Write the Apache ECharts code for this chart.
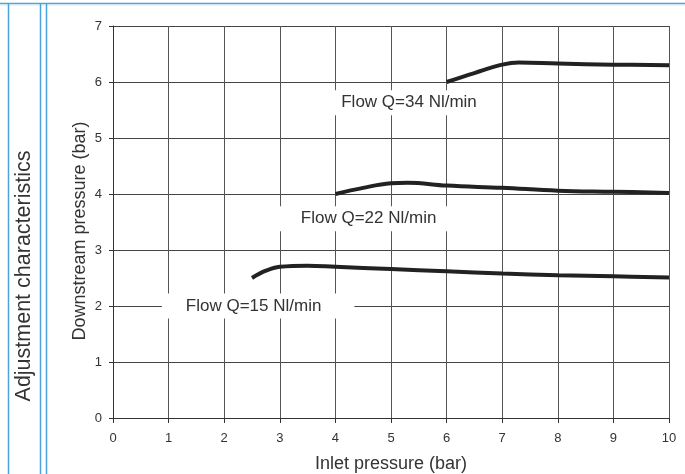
<!DOCTYPE html>
<html>
<head>
<meta charset="utf-8">
<script src="https://cdn.jsdelivr.net/npm/echarts@6/dist/echarts.min.js"></script>
<style>
  html, body { margin: 0; padding: 0; background: #fff; }
  #chart { width: 685px; height: 474px; }
</style>
</head>
<body>
<div id="chart"></div>
<script>
// inlet pressure (bar) -> downstream pressure (bar)
const flow15 = [[2.5, 2.5], [2.75, 2.63], [3.0, 2.7], [3.5, 2.72], [4, 2.7], [5, 2.66], [6, 2.62], [7, 2.58], [8, 2.55], [9, 2.53], [10, 2.51]];
const flow22 = [[4, 4.0], [4.5, 4.11], [5, 4.19], [5.3, 4.2], [6, 4.15], [7, 4.11], [8, 4.06], [9, 4.04], [10, 4.02]];
const flow34 = [[6, 6.0], [6.5, 6.16], [7, 6.31], [7.3, 6.35], [8, 6.33], [9, 6.31], [10, 6.3]];

const seriesNames = ['Flow Q=15 Nl/min', 'Flow Q=22 Nl/min', 'Flow Q=34 Nl/min'];
// where each flow label sits (data coords)
const labelAt = [[2.61, 2.0], [4.57, 3.56], [5.36, 5.63]];
const labelPad = [[4, 33, 4, 24], [4, 18, 4, 21], [4, 22, 4, 18]];

const xTicks = { min: 0, max: 10, interval: 1 };
const yTicks = { min: 0, max: 7, interval: 1 };

const chart = echarts.init(document.getElementById('chart'));

const FONT = 'Liberation Sans, Arial, sans-serif';
const BLUE = '#4aa3dc';

function lineSeries(name, data, i) {
  return {
    name: name,
    type: 'line',
    data: data,
    smooth: 0.4,
    symbol: 'none',
    lineStyle: { color: '#222', width: 4 },
    z: 3,
    markPoint: {
      symbol: 'rect',
      symbolSize: 0,
      silent: true,
      data: [{ coord: labelAt[i] }],
      label: {
        show: true,
        position: 'inside',
        formatter: name,
        color: '#333',
        fontFamily: FONT,
        fontSize: 17,
        backgroundColor: '#fff',
        padding: labelPad[i],
      },
    },
  };
}

chart.setOption({
  animation: false,
  textStyle: { fontFamily: FONT },
  grid: { left: 113, right: 16, top: 26, bottom: 56, outerBoundsMode: 'none' },
  xAxis: {
    type: 'value',
    min: xTicks.min, max: xTicks.max, interval: xTicks.interval,
    name: 'Inlet pressure (bar)',
    nameLocation: 'middle',
    nameGap: 37,
    nameTextStyle: { fontSize: 18, color: '#333', fontFamily: FONT },
    axisLine: { show: true, lineStyle: { color: '#333', width: 1 } },
    axisTick: { show: true, length: 5, lineStyle: { color: '#333' } },
    axisLabel: { fontSize: 13, color: '#333', margin: 14 },
    splitLine: { show: true, lineStyle: { color: '#555', width: 1 } },
  },
  yAxis: {
    type: 'value',
    min: yTicks.min, max: yTicks.max, interval: yTicks.interval,
    axisLine: { show: true, lineStyle: { color: '#333', width: 1 } },
    axisTick: { show: true, length: 4, lineStyle: { color: '#333' } },
    axisLabel: { fontSize: 13, color: '#333', margin: 11 },
    splitLine: { show: true, lineStyle: { color: '#444', width: 1 } },
  },
  series: [
    lineSeries(seriesNames[0], flow15, 0),
    lineSeries(seriesNames[1], flow22, 1),
    lineSeries(seriesNames[2], flow34, 2),
  ],
  graphic: [
    // page frame lines
    { type: 'line', shape: { x1: 0, y1: 3.5, x2: 685, y2: 3.5 }, style: { stroke: BLUE, lineWidth: 1.5 } },
    { type: 'line', shape: { x1: 0, y1: 5, x2: 685, y2: 5 }, style: { stroke: '#cfe6f5', lineWidth: 1 } },
    { type: 'line', shape: { x1: 8.5, y1: 3, x2: 8.5, y2: 474 }, style: { stroke: BLUE, lineWidth: 1.5 } },
    { type: 'line', shape: { x1: 40.5, y1: 3, x2: 40.5, y2: 474 }, style: { stroke: BLUE, lineWidth: 1.5 } },
    { type: 'line', shape: { x1: 46.5, y1: 3, x2: 46.5, y2: 474 }, style: { stroke: BLUE, lineWidth: 1.5 } },
    {
      type: 'text',
      x: 24, y: 276,
      rotation: Math.PI / 2,
      style: {
        text: 'Adjustment characteristics',
        fontSize: 21.5,
        fontFamily: FONT,
        fill: '#333',
        align: 'center',
        verticalAlign: 'middle',
      },
    },
    // y axis title
    {
      type: 'text',
      x: 80, y: 231,
      rotation: Math.PI / 2,
      style: {
        text: 'Downstream pressure (bar)',
        fontSize: 18,
        fontFamily: FONT,
        fill: '#333',
        align: 'center',
        verticalAlign: 'middle',
      },
    },
  ],
});
</script>
</body>
</html>
